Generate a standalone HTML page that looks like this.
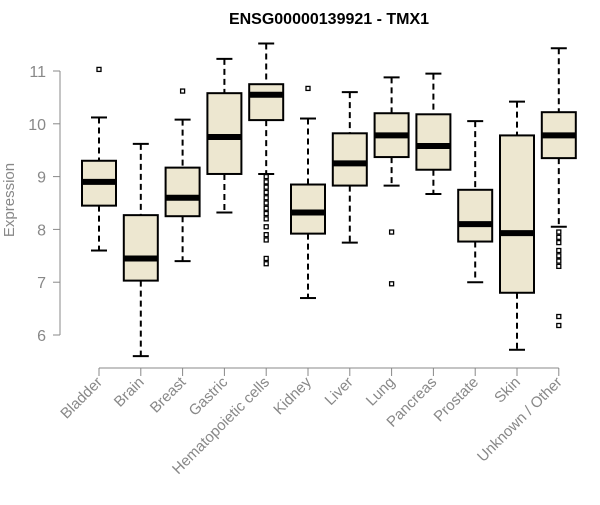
<!DOCTYPE html>
<html><head><meta charset="utf-8"><style>
body{margin:0;background:#fff;font-family:"Liberation Sans",Arial,sans-serif}
</style></head><body>
<svg id="chart" width="600" height="500" xmlns="http://www.w3.org/2000/svg">
<text x="329" y="24" text-anchor="middle" font-size="16" font-weight="bold" fill="#000">ENSG00000139921 - TMX1</text>
<text transform="translate(14,200) rotate(-90)" text-anchor="middle" font-size="15" fill="#888">Expression</text>
<g id="plot"></g>
</svg>
<script>
const categories=["Bladder","Brain","Breast","Gastric","Hematopoietic cells","Kidney","Liver","Lung","Pancreas","Prostate","Skin","Unknown / Other"];
const whiskerLow=[7.6,5.6,7.4,8.32,9.05,6.7,7.75,8.83,8.67,7.0,5.72,8.05];
const q1=[8.45,7.03,8.25,9.05,10.07,7.92,8.83,9.37,9.13,7.77,6.8,9.35];
const medians=[8.9,7.45,8.6,9.75,10.55,8.32,9.25,9.78,9.58,8.1,7.93,9.78];
const q3=[9.3,8.27,9.17,10.58,10.75,8.85,9.82,10.2,10.18,8.75,9.78,10.22];
const whiskerHigh=[10.12,9.62,10.08,11.23,11.52,10.1,10.6,10.88,10.95,10.05,10.42,11.43];
const outliers=[[11.03],[],[10.62],[],[9.0,8.9,8.8,8.7,8.6,8.5,8.4,8.3,8.2,8.05,7.9,7.8,7.45,7.35],[10.67],[],[7.95,6.97],[],[],[],[7.95,7.85,7.75,7.6,7.5,7.4,7.3,6.35,6.18]];
const yTicks=[6,7,8,9,10,11];
const NS="http://www.w3.org/2000/svg";
const y=v=>71+(11-v)*52.8;
const x=i=>99+i*41.8;
const g=document.getElementById('plot');
function mk(t,a){const e=document.createElementNS(NS,t);for(const k in a)e.setAttribute(k,a[k]);g.appendChild(e);return e;}
let ax=mk('line',{x1:60,x2:60,y1:y(11),y2:y(6),stroke:'#888'});


yTicks.forEach(t=>{
 let l=mk('line',{x1:53,x2:60,y1:y(t),y2:y(t),stroke:'#888'});
 
 
 let tx=mk('text',{x:46,y:y(t)+6,'text-anchor':'end','font-size':16,fill:'#888'});
 tx.textContent=t;
 
 
});
let xa=mk('line',{x1:x(0),x2:x(11),y1:368,y2:368,stroke:'#888'});


categories.forEach((c,i)=>{
 const cx=x(i),w=17;
 let t=mk('line',{x1:cx,x2:cx,y1:368,y2:376,stroke:'#888'});
 
 
 let lab=mk('text',{transform:`translate(${cx+4},${383}) rotate(-45)`,'text-anchor':'end','font-size':15,fill:'#888'});
 lab.textContent=c;
 
 
 let wl=mk('line',{x1:cx,x2:cx,y1:y(whiskerHigh[i]),y2:y(q3[i]),stroke:'#000','stroke-width':2,'stroke-dasharray':'6,4'});
 
 
 let wl2=mk('line',{x1:cx,x2:cx,y1:y(q1[i]),y2:y(whiskerLow[i]),stroke:'#000','stroke-width':2,'stroke-dasharray':'6,4'});
 
 
 [whiskerHigh[i],whiskerLow[i]].forEach(v=>{
  let cap=mk('line',{x1:cx-8,x2:cx+8,y1:y(v),y2:y(v),stroke:'#000','stroke-width':2});
  
  
 });
 let b=mk('rect',{x:cx-w,y:y(q3[i]),width:2*w,height:y(q1[i])-y(q3[i]),fill:'#ede7d0',stroke:'#000','stroke-width':2});
 
 
 let m=mk('line',{x1:cx-w,x2:cx+w,y1:y(medians[i]),y2:y(medians[i]),stroke:'#000','stroke-width':6});
 
 
 outliers[i].forEach(v=>{
  let o=mk('rect',{x:cx-2,y:y(v)-2,width:4,height:4,fill:'none',stroke:'#000','stroke-width':1.3});
  
  
 });
});
</script>
</body></html>
